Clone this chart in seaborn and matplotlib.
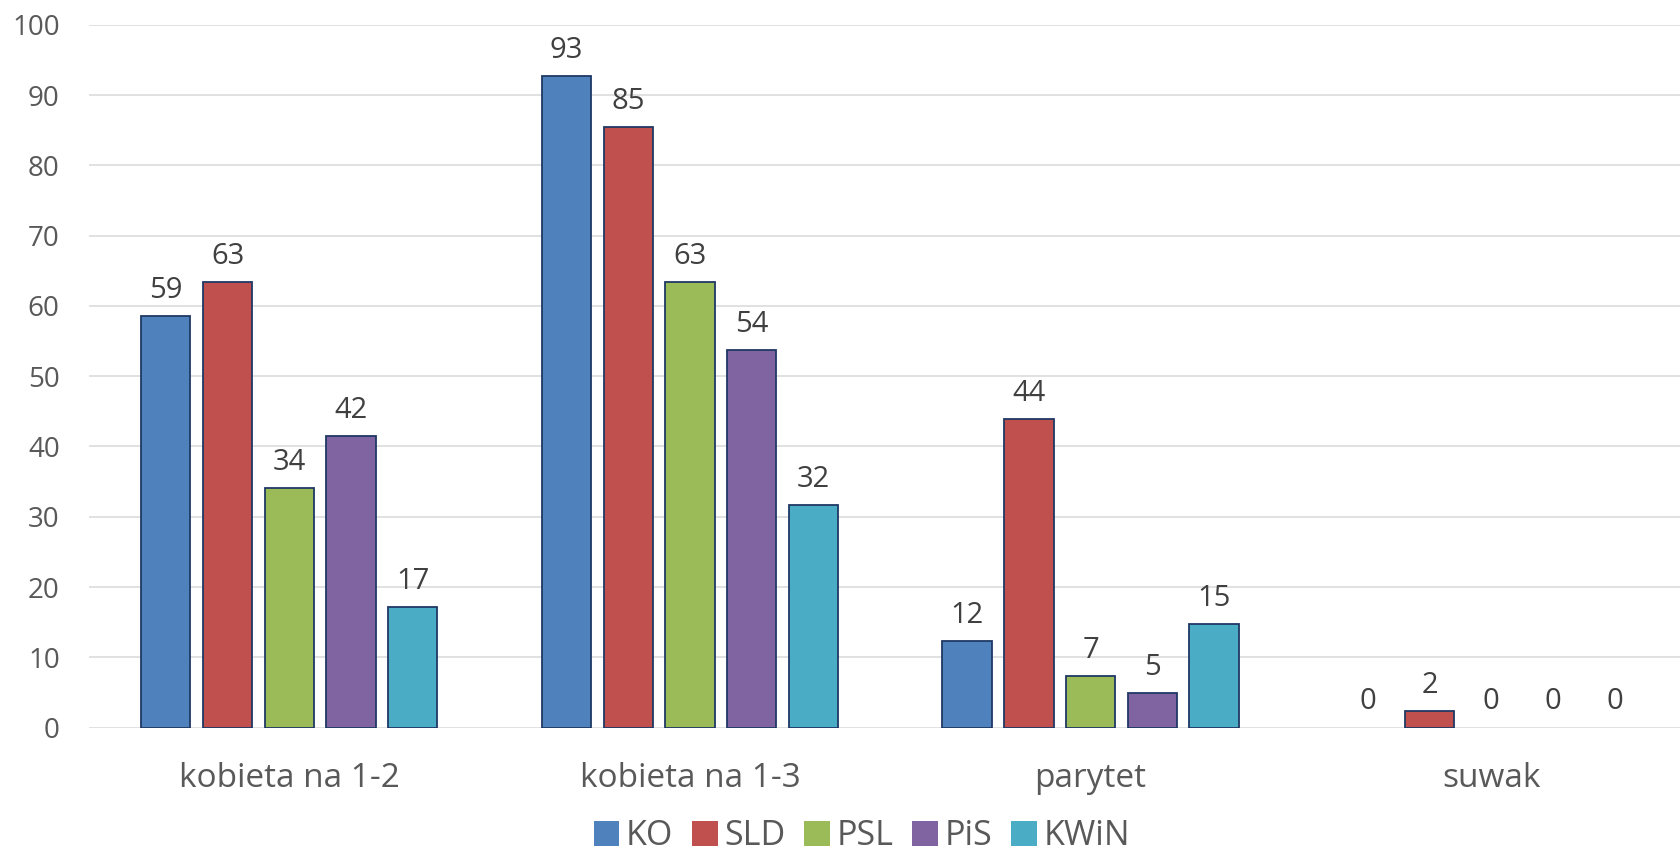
import seaborn as sns
import matplotlib.pyplot as plt
import pandas as pd

# dane
kategorie = ['kobieta na 1-2', 'kobieta na 1-3', 'parytet', 'suwak']
partie = ['KO', 'SLD', 'PSL', 'PiS', 'KWiN']
wartosci = {
    'KO':   [58.6, 92.7, 12.3, 0.0],
    'SLD':  [63.4, 85.4, 43.9, 2.4],
    'PSL':  [34.1, 63.4, 7.3, 0.0],
    'PiS':  [41.5, 53.7, 4.9, 0.0],
    'KWiN': [17.2, 31.7, 14.7, 0.0],
}
kolory = ['#4F81BD', '#C0504D', '#9BBB59', '#8064A2', '#4BACC6']

rows = []
for p in partie:
    for k, v in zip(kategorie, wartosci[p]):
        rows.append({'kategoria': k, 'partia': p, 'wartosc': v})
df = pd.DataFrame(rows)

sns.set_theme(style='white')
plt.rcParams['font.family'] = ['Open Sans', 'DejaVu Sans']

f = plt.figure(figsize=(16.8, 8.56), dpi=100)
ax = f.add_axes([0.0529, 0.150, 0.9471, 0.821])

sns.barplot(data=df, x='kategoria', y='wartosc', hue='partia', order=kategorie,
            hue_order=partie, palette=kolory, saturation=1, width=0.77, gap=0.2,
            errorbar=None, edgecolor='#1F3864', linewidth=1.3, ax=ax, zorder=3)

for p in ax.patches:
    if p.get_height() == 0:
        p.set_linewidth(0)

for c in ax.containers:
    ax.bar_label(c, fmt='%.0f', padding=8, fontsize=21, color='#404040')

ax.set_xlim(-0.5, 3.471)
ax.set_ylim(0, 100)
ax.set_yticks(range(0, 101, 10))
ax.grid(axis='y', color='#D9D9D9', linewidth=1.1, zorder=0)
ax.set_axisbelow(True)
for s in ax.spines.values():
    s.set_visible(False)
ax.set_xlabel('')
ax.set_ylabel('')
ax.tick_params(axis='y', length=0, pad=21, labelsize=20, labelcolor='#595959')
ax.tick_params(axis='x', length=0, pad=25, labelsize=24, labelcolor='#595959')

h, l = ax.get_legend_handles_labels()
ax.get_legend().remove()
f.legend(h, l, loc='center', bbox_to_anchor=(0.513, 0.023), ncol=5, frameon=False,
         fontsize=24.5, handlelength=0.75, handleheight=0.75, handletextpad=0.2,
         columnspacing=0.55, labelcolor='#595959', borderaxespad=0)

f.savefig('out.png', dpi=100)
